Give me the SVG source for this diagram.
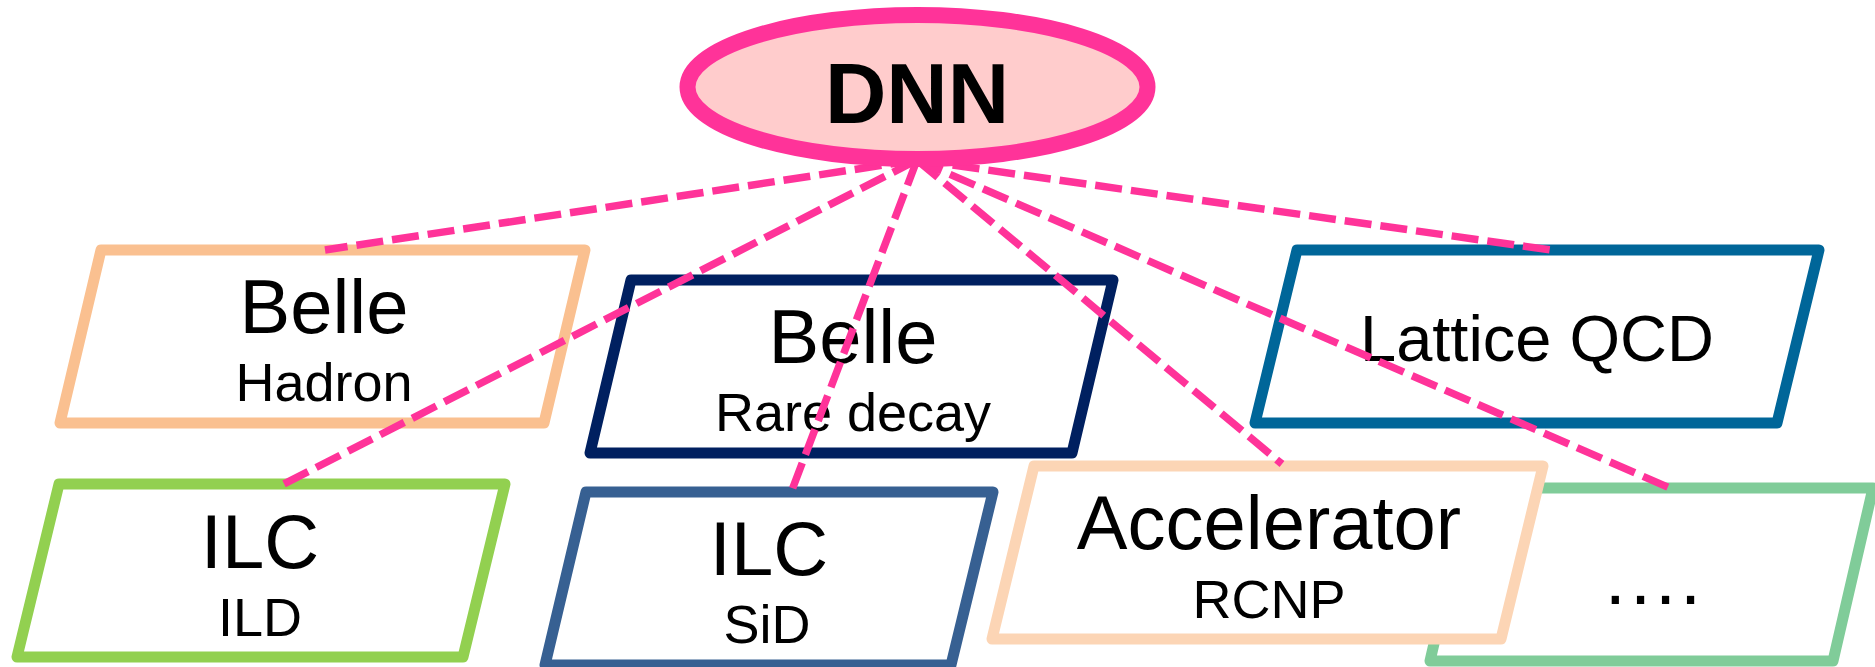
<svg xmlns="http://www.w3.org/2000/svg" width="1875" height="667" viewBox="0 0 1875 667">
<style>
.box{fill:#FFFFFF;stroke-width:11;stroke-linejoin:round}
.t{font-family:"Liberation Sans",Arial,sans-serif;fill:#000000;text-anchor:middle}
.big{font-size:76px}
.small{font-size:54px}
.conn{stroke:#FF3399;stroke-width:7.5;stroke-dasharray:27 9;fill:none}
</style>
<rect x="0" y="0" width="1875" height="667" fill="#FFFFFF"/>
<g id="belle-hadron">
<polygon class="box" stroke="#FAC090" points="101,250 585,250 544,423 60,423"/>
<text class="t big" x="324" y="333">Belle</text>
<text class="t small" x="324" y="401">Hadron</text>
</g>
<g id="belle-rare">
<polygon class="box" stroke="#002060" points="631,280 1113,280 1072,453 590,453"/>
<text class="t big" x="853" y="363">Belle</text>
<text class="t small" x="853" y="431">Rare decay</text>
</g>
<g id="lattice-qcd">
<polygon class="box" stroke="#006699" points="1297,250 1819,250 1777,423 1255,423"/>
<text class="t" style="font-size:65px" x="1537" y="361">Lattice QCD</text>
</g>
<g id="ilc-ild">
<polygon class="box" stroke="#92D050" points="59,484 505,484 463,657 17,657"/>
<text class="t big" x="260" y="568">ILC</text>
<text class="t small" x="260" y="636">ILD</text>
</g>
<g id="ilc-sid">
<polygon class="box" stroke="#376092" points="586,492 993,492 951,665 545,665"/>
<text class="t big" x="769" y="575">ILC</text>
<text class="t small" x="767" y="643">SiD</text>
</g>
<g id="others">
<polygon class="box" stroke="#80CC99" points="1470,488 1873,488 1833,661 1430,661"/>
<text class="t big" x="1655" y="604" style="letter-spacing:4px">....</text>
</g>
<g id="accelerator">
<polygon class="box" stroke="#FCD5B5" points="1034,466 1543,466 1501,639 992,639"/>
<text class="t big" x="1269" y="549">Accelerator</text>
<text class="t small" x="1269" y="618">RCNP</text>
</g>
<g id="connectors">
<line class="conn" x1="917" y1="160" x2="325" y2="250"/>
<line class="conn" x1="917" y1="160" x2="282" y2="485"/>
<line class="conn" x1="917" y1="160" x2="792" y2="490"/>
<line class="conn" x1="917" y1="160" x2="1282" y2="464"/>
<line class="conn" x1="917" y1="160" x2="1672" y2="489"/>
<line class="conn" x1="917" y1="160" x2="1558" y2="251"/>
</g>
<g id="dnn">
<ellipse cx="917.5" cy="87" rx="230" ry="72" fill="#FFCCCC" stroke="#FF3399" stroke-width="16"/>
<text class="t" style="font-size:85px;font-weight:bold" x="917" y="123">DNN</text>
</g>
</svg>
